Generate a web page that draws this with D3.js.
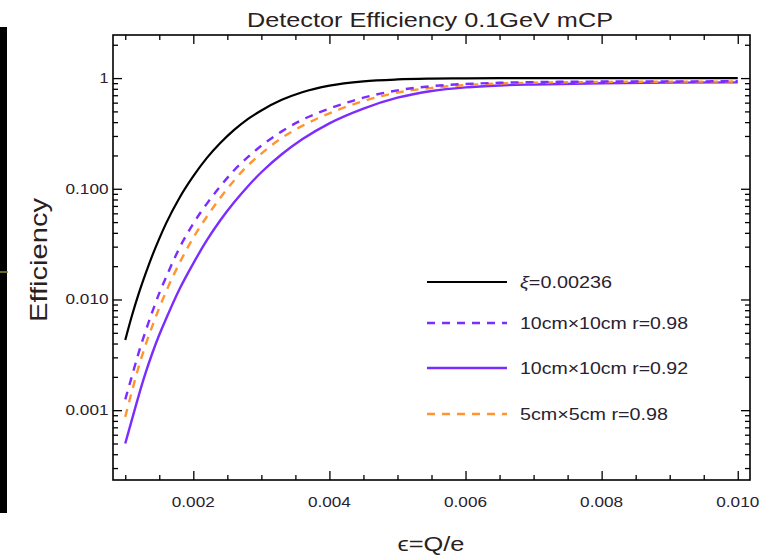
<!DOCTYPE html>
<html>
<head>
<meta charset="utf-8">
<script src="https://cdn.jsdelivr.net/npm/d3@7"></script>
<style>
  html, body { margin: 0; padding: 0; background: #fff; }
  svg { display: block; font-family: "Liberation Sans", Arial, sans-serif; }
</style>
</head>
<body>
<svg id="chart" width="772" height="555"></svg>
<script>
// charge fraction grid (epsilon = Q/e)
const eps = [0.001, 0.0011, 0.0012, 0.0013, 0.0014, 0.0015, 0.0016, 0.0018, 0.002,
             0.0022, 0.0024, 0.0026, 0.0028, 0.003, 0.0033, 0.0036, 0.004, 0.0045,
             0.005, 0.0055, 0.006, 0.0065, 0.007, 0.008, 0.009, 0.010];

// detector efficiency for each configuration
const effXi = [0.0043, 0.0072, 0.0114, 0.0172, 0.0252, 0.0355, 0.0487, 0.0835, 0.130,
               0.190, 0.260, 0.340, 0.426, 0.510, 0.636, 0.745, 0.855, 0.935,
               0.972, 0.988, 0.995, 0.998, 1.0, 1.0, 1.0, 1.0];
const eff10r98 = [0.00125, 0.00205, 0.00335, 0.0052, 0.0078, 0.0114, 0.0159, 0.0295, 0.0485,
                  0.0735, 0.106, 0.147, 0.193, 0.245, 0.330, 0.420, 0.530, 0.665,
                  0.775, 0.845, 0.885, 0.907, 0.920, 0.930, 0.934, 0.935];
const eff10r92 = [0.0005, 0.00083, 0.00137, 0.00218, 0.0033, 0.0048, 0.0067, 0.0125, 0.0212,
                  0.0343, 0.0522, 0.0755, 0.105, 0.141, 0.205, 0.280, 0.390, 0.530,
                  0.665, 0.765, 0.825, 0.858, 0.876, 0.898, 0.910, 0.915];
const eff5r98 = [0.00087, 0.0015, 0.0025, 0.0039, 0.0058, 0.0084, 0.0118, 0.0215, 0.0362,
                 0.0562, 0.0835, 0.119, 0.162, 0.208, 0.288, 0.370, 0.480, 0.620,
                 0.740, 0.815, 0.865, 0.893, 0.908, 0.922, 0.928, 0.930];

const seriesNames = [["\u03BE", "=0.00236"], ["", "10cm\u00D710cm r=0.98"],
                     ["", "10cm\u00D710cm r=0.92"], ["", "5cm\u00D75cm r=0.98"]];

// axis ticks
const xMajorTicks = [0.002, 0.004, 0.006, 0.008, 0.010];
const xTickLabels = ["0.002", "0.004", "0.006", "0.008", "0.010"];
const yMajorTicks = [0.001, 0.01, 0.1, 1];
const yTickLabels = ["0.001", "0.010", "0.100", "1"];

const titleText = "Detector Efficiency 0.1GeV mCP";
const xTitle = "\u03F5=Q/e";
const yTitle = "Efficiency";

// ---- layout ----
const L = 113, R = 750, T = 35, B = 480;
const svg = d3.select("#chart");

const x = d3.scaleLinear().domain([0.00082, 0.01018]).range([L, R]);
const y = d3.scaleLog().domain([2.34e-4, 2.45]).range([B, T]);

// helper: fit a text element to a given rendered width
function fit(sel, w) {
  sel.attr("textLength", w).attr("lengthAdjust", "spacingAndGlyphs");
  return sel;
}

// dark bar on the far left of the canvas
svg.append("rect").attr("x", 0).attr("y", 27).attr("width", 7).attr("height", 486).attr("fill", "#000");
svg.append("line").attr("x1", 0).attr("x2", 8).attr("y1", 272).attr("y2", 272)
  .attr("stroke", "#8c8c32").attr("stroke-width", 1.5);

// clip to plot area
svg.append("defs").append("clipPath").attr("id", "plotClip")
  .append("rect").attr("x", L).attr("y", T).attr("width", R - L).attr("height", B - T);

// ---- curves ----
const series = [
  { vals: effXi,    color: "#000000", dash: null,  width: 2.2 },
  { vals: eff10r98, color: "#7b2cff", dash: "8,7", width: 2.4 },
  { vals: eff10r92, color: "#7b2cff", dash: null,  width: 2.4 },
  { vals: eff5r98,  color: "#ff9430", dash: "8,7", width: 2.4 }
];
const line = d3.line().x((d, i) => x(eps[i])).y(d => y(d)).curve(d3.curveMonotoneX);

const g = svg.append("g").attr("clip-path", "url(#plotClip)");
// draw order: solid purple, orange, dashed purple, black
[2, 3, 1, 0].forEach(k => {
  const s = series[k];
  g.append("path").attr("d", line(s.vals))
    .attr("fill", "none").attr("stroke", s.color).attr("stroke-width", s.width)
    .attr("stroke-dasharray", s.dash);
});

// ---- frame & ticks ----
const xMinor = d3.range(0.001, 0.01001, 0.0005).filter(v => !xMajorTicks.some(m => Math.abs(m - v) < 1e-9));
const yMinor = [];
for (let e = -4; e <= 0; e++) for (let m = 2; m <= 9; m++) {
  const v = m * Math.pow(10, e);
  if (v > 2.34e-4 && v < 2.45) yMinor.push(v);
}

const axisStyle = sel => {
  sel.select(".domain").remove();
  sel.selectAll(".tick line").attr("stroke", "#000").attr("stroke-width", 1.3);
  sel.selectAll(".tick text").remove();
};

// bottom
svg.append("g").attr("transform", `translate(0,${B})`)
  .call(d3.axisBottom(x).tickValues(xMajorTicks).tickSize(-9)).call(axisStyle);
svg.append("g").attr("transform", `translate(0,${B})`)
  .call(d3.axisBottom(x).tickValues(xMinor).tickSize(-5)).call(axisStyle);
// top
svg.append("g").attr("transform", `translate(0,${T})`)
  .call(d3.axisTop(x).tickValues(xMajorTicks).tickSize(-9)).call(axisStyle);
svg.append("g").attr("transform", `translate(0,${T})`)
  .call(d3.axisTop(x).tickValues(xMinor).tickSize(-5)).call(axisStyle);
// left
svg.append("g").attr("transform", `translate(${L},0)`)
  .call(d3.axisLeft(y).tickValues(yMajorTicks).tickSize(-9)).call(axisStyle);
svg.append("g").attr("transform", `translate(${L},0)`)
  .call(d3.axisLeft(y).tickValues(yMinor).tickSize(-5)).call(axisStyle);
// right
svg.append("g").attr("transform", `translate(${R},0)`)
  .call(d3.axisRight(y).tickValues(yMajorTicks).tickSize(-9)).call(axisStyle);
svg.append("g").attr("transform", `translate(${R},0)`)
  .call(d3.axisRight(y).tickValues(yMinor).tickSize(-5)).call(axisStyle);

svg.append("rect").attr("x", L).attr("y", T).attr("width", R - L).attr("height", B - T)
  .attr("fill", "none").attr("stroke", "#000").attr("stroke-width", 1.6);

// ---- tick labels ----
const labelColor = "#2a2230";
xMajorTicks.forEach((v, i) => {
  fit(svg.append("text").attr("x", x(v)).attr("y", 507)
    .attr("text-anchor", "middle").attr("font-size", 14).attr("fill", labelColor)
    .text(xTickLabels[i]), 43);
});
yMajorTicks.forEach((v, i) => {
  const t = svg.append("text").attr("x", 108.5).attr("y", y(v) + 5)
    .attr("text-anchor", "end").attr("font-size", 14).attr("fill", labelColor)
    .text(yTickLabels[i]);
  fit(t, yTickLabels[i].length === 1 ? 9 : 43);
});

// ---- titles ----
fit(svg.append("text").attr("x", 430).attr("y", 27).attr("text-anchor", "middle")
  .attr("font-size", 20).attr("fill", "#2a2020").text(titleText), 366);
fit(svg.append("text").attr("x", 431).attr("y", 551).attr("text-anchor", "middle")
  .attr("font-size", 21).attr("fill", "#2a2020").text(xTitle), 67);
fit(svg.append("text").attr("transform", "translate(47,260) rotate(-90)")
  .attr("text-anchor", "middle").attr("font-size", 24).attr("fill", "#2a2020").text(yTitle), 124);

// ---- legend ----
const legendRows = [282, 323, 368, 414];
const legendWidths = [92, 168, 168, 148];
series.forEach((s, i) => {
  svg.append("line").attr("x1", 427).attr("x2", 507)
    .attr("y1", legendRows[i]).attr("y2", legendRows[i])
    .attr("stroke", s.color).attr("stroke-width", s.width)
    .attr("stroke-dasharray", s.dash);
  const t = svg.append("text").attr("x", 520).attr("y", legendRows[i] + 6)
    .attr("font-size", 17).attr("fill", "#2a2230");
  if (seriesNames[i][0]) t.append("tspan").attr("font-style", "italic").text(seriesNames[i][0]);
  t.append("tspan").text(seriesNames[i][1]);
  fit(t, legendWidths[i]);
});
</script>
</body>
</html>
